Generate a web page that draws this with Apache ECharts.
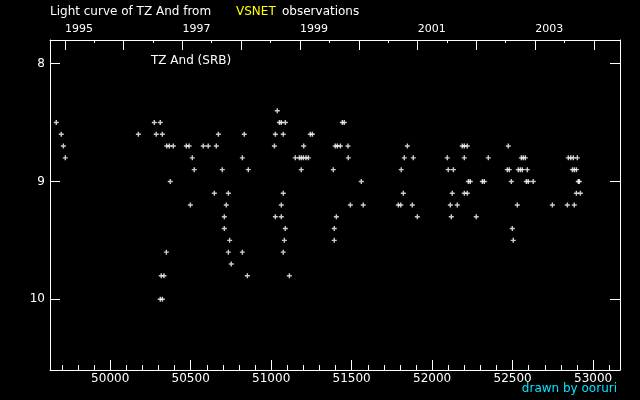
<!DOCTYPE html>
<html>
<head>
<meta charset="utf-8">
<script src="https://cdn.jsdelivr.net/npm/echarts@6/dist/echarts.min.js"></script>
<style>
html,body{margin:0;padding:0;background:#000;}
#c{width:640px;height:400px;}
</style>
</head>
<body>
<div id="c"></div>
<script>
// Observation dates (JD - 2400000)
const jd = [
49665,49696,49709,49721,
50175,50274,50286,50311,50311,50317,50324,50324,50334,50349,50351,50367,50373,50392,
50473,50490,50498,50510,50522,50578,50609,50647,50659,50672,50696,50709,50709,50721,
50734,50734,50742,50752,50821,50821,50833,50852,50858,
51020,51026,51026,51038,51051,51063,51063,51063,51075,51075,51075,51082,51088,51088,51113,
51150,51175,51187,51187,51200,51202,51216,51231,51243,51256,
51386,51392,51392,51398,51405,51411,51430,51442,51454,51477,51479,51492,51560,51572,
51790,51805,51808,51821,51827,51846,51877,51883,51908,
52094,52100,52113,52119,52125,52132,52156,52187,52200,52200,52200,52218,52218,52225,52237,
52274,52312,52324,52349,
52467,52473,52479,52492,52498,52504,52529,52535,52548,52554,52560,52566,52579,52585,52591,52597,52628,
52747,52840,52846,52861,52871,52877,52883,52883,52896,52896,52902,52908,52914,52921
];
// Visual magnitudes
const mag = [
8.5,8.6,8.7,8.8,
8.6,8.5,8.6,8.5,10.0,9.8,8.6,10.0,9.8,9.6,8.7,8.7,9.0,8.7,
8.7,8.7,9.2,8.8,8.9,8.7,8.7,9.1,8.7,8.6,8.9,9.3,9.4,9.2,
9.1,9.6,9.5,9.7,8.8,9.6,8.6,9.8,8.9,
8.7,8.6,9.3,8.4,8.5,8.5,9.2,9.3,8.6,9.1,9.6,9.5,8.5,9.4,9.8,
8.8,8.8,8.8,8.9,8.8,8.7,8.8,8.8,8.6,8.6,
8.9,9.4,9.5,8.7,9.3,8.7,8.7,8.5,8.5,8.7,8.8,9.2,9.0,9.2,
9.2,9.2,8.9,9.1,8.8,8.7,9.2,8.8,9.3,
8.8,8.9,9.2,9.3,9.1,8.9,9.2,8.7,8.7,8.8,9.1,8.7,9.1,9.0,9.0,
9.3,9.0,9.0,8.8,
8.9,8.7,8.9,9.0,9.4,9.5,9.2,8.9,8.9,8.8,8.9,8.8,8.8,9.0,8.9,9.0,9.0,
9.2,9.2,8.8,8.8,8.9,8.8,8.9,9.2,8.9,9.1,8.8,9.0,9.0,9.1
];
// Axis ticks
const jdMajorTicks = [50000,50500,51000,51500,52000,52500,53000];
const jdMinorTicks = [49700,49800,49900,50100,50200,50300,50400,50600,50700,50800,50900,
  51100,51200,51300,51400,51600,51700,51800,51900,52100,52200,52300,52400,
  52600,52700,52800,52900,53100];
const yearTicks = [49718.5,50083.5,50449.5,50814.5,51179.5,51544.5,51910.5,52275.5,52640.5,53005.5];
const yearTickNames = ['1995','1996','1997','1998','1999','2000','2001','2002','2003','2004'];
const yearLabelTicks = [49718.5,50449.5,51179.5,51910.5,52640.5];
const midYearTicks = [49899.5,50265.5,50630.5,50995.5,51360.5,51726.5,52091.5,52456.5,52821.5];
const magTicks = [8,9,10];

const X_MIN = 49626, X_MAX = 53167, Y_MIN = 7.8, Y_MAX = 10.6;
const FONT = 'DejaVu Sans';
const W = '#ffffff';

const chart = echarts.init(document.getElementById('c'), null, {renderer:'canvas'});
const baseX = {type:'value', min:X_MIN, max:X_MAX, splitLine:{show:false}, axisLine:{show:false}};
chart.setOption({
  backgroundColor:'#000',
  animation:false,
  grid:{left:50, top:40, width:570, height:330, containLabel:false},
  xAxis:[
    Object.assign({}, baseX, {position:'bottom',
      axisLine:{show:true, lineStyle:{color:W, width:1}},
      axisTick:{inside:true, length:10, customValues:jdMajorTicks, lineStyle:{color:W}},
      axisLabel:{customValues:jdMajorTicks, color:W, fontSize:12, fontFamily:FONT, margin:3,
        formatter:v=>String(v)}}),
    Object.assign({}, baseX, {position:'bottom',
      axisTick:{inside:true, length:5, customValues:jdMinorTicks, lineStyle:{color:W}},
      axisLabel:{show:false}}),
    Object.assign({}, baseX, {position:'top',
      axisLine:{show:true, lineStyle:{color:W, width:1}},
      axisTick:{inside:true, length:10, customValues:yearTicks, lineStyle:{color:W}},
      axisLabel:{customValues:yearLabelTicks, color:W, fontSize:11, fontFamily:FONT, margin:5, align:'left',
        formatter:v=>yearTickNames[yearTicks.indexOf(v)]}}),
    Object.assign({}, baseX, {position:'top',
      axisTick:{inside:true, length:3, customValues:midYearTicks, lineStyle:{color:W}},
      axisLabel:{show:false}})
  ],
  yAxis:[
    {type:'value', inverse:true, min:Y_MIN, max:Y_MAX, position:'left', splitLine:{show:false},
      axisLine:{show:true, lineStyle:{color:W, width:1}},
      axisTick:{inside:true, length:10, customValues:magTicks, lineStyle:{color:W}},
      axisLabel:{customValues:magTicks, color:W, fontSize:12, fontFamily:FONT, margin:5}},
    {type:'value', inverse:true, min:Y_MIN, max:Y_MAX, position:'right', splitLine:{show:false},
      axisLine:{show:true, lineStyle:{color:W, width:1}},
      axisTick:{inside:true, length:10, customValues:magTicks, lineStyle:{color:W}},
      axisLabel:{show:false}}
  ],
  series:[{
    type:'scatter', xAxisIndex:0, yAxisIndex:0,
    data: jd.map((x,i)=>[x, mag[i]]),
    symbol:'path://M1.8,0h1.4v1.8h1.8v1.4h-1.8v1.8h-1.4v-1.8h-1.8v-1.4h1.8z',
    symbolSize:5,
    itemStyle:{color:W},
    silent:true
  }],
  graphic:[
    {type:'text', left:50, top:6, style:{text:'Light curve of TZ And from', fill:W, font:'12px "DejaVu Sans"'}},
    {type:'text', left:236, top:6, style:{text:'VSNET', fill:'#ffff00', font:'12px "DejaVu Sans"'}},
    {type:'text', left:282, top:6, style:{text:'observations', fill:W, font:'12px "DejaVu Sans"'}},
    {type:'text', left:151, top:55, style:{text:'TZ And (SRB)', fill:W, font:'12px "DejaVu Sans"'}},
    {type:'text', right:23, top:383, style:{text:'drawn by ooruri', fill:'#00e5ff', font:'12px "DejaVu Sans"'}}
  ]
});
</script>
</body>
</html>
